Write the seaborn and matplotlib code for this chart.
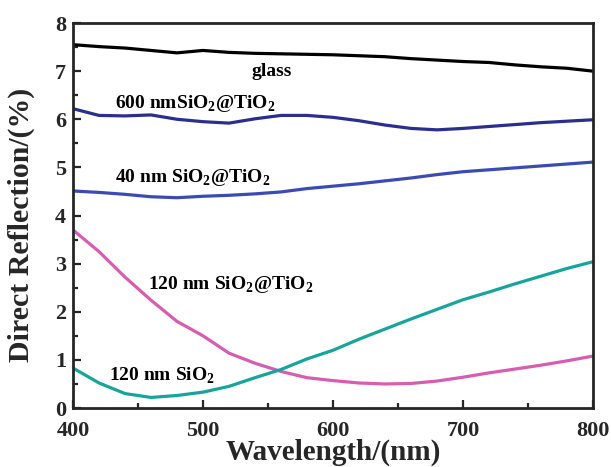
import matplotlib
matplotlib.use("Agg")
import matplotlib.pyplot as plt
import seaborn as sns
import pandas as pd
from matplotlib.ticker import MultipleLocator

wl = [400, 420, 440, 460, 480, 500, 520, 540, 560, 580, 600, 620, 640, 660,
      680, 700, 720, 740, 760, 780, 800]

glass = [7.55, 7.51, 7.48, 7.43, 7.38, 7.43, 7.39, 7.37, 7.36, 7.35, 7.34, 7.32,
         7.30, 7.26, 7.23, 7.20, 7.18, 7.13, 7.09, 7.06, 7.00]
sio2tio2_600 = [6.22, 6.08, 6.07, 6.09, 6.00, 5.95, 5.92, 6.01, 6.08, 6.08, 6.04,
                5.97, 5.88, 5.81, 5.78, 5.81, 5.85, 5.89, 5.93, 5.96, 5.99]
sio2tio2_40 = [4.51, 4.48, 4.44, 4.39, 4.37, 4.40, 4.42, 4.45, 4.49, 4.56, 4.61,
               4.66, 4.72, 4.78, 4.85, 4.91, 4.95, 4.99, 5.03, 5.07, 5.11]
sio2tio2_120 = [3.70, 3.25, 2.72, 2.24, 1.80, 1.50, 1.14, 0.93, 0.76, 0.63, 0.57,
                0.52, 0.50, 0.51, 0.56, 0.64, 0.73, 0.81, 0.89, 0.98, 1.08]
sio2_120 = [0.83, 0.52, 0.30, 0.22, 0.26, 0.33, 0.45, 0.63, 0.80, 1.02, 1.20,
            1.43, 1.64, 1.85, 2.05, 2.25, 2.41, 2.58, 2.74, 2.90, 3.04]

series = [
    ("glass", glass, "#000000"),
    ("600 nm SiO2@TiO2", sio2tio2_600, "#2B2E8C"),
    ("40 nm SiO2@TiO2", sio2tio2_40, "#3C4BB4"),
    ("120 nm SiO2@TiO2", sio2tio2_120, "#D65DB0"),
    ("120 nm SiO2", sio2_120, "#17A49B"),
]

sns.set_style("ticks")
plt.rcParams['font.family'] = ['Liberation Serif', 'DejaVu Serif']
plt.rcParams['font.weight'] = 'bold'
plt.rcParams['mathtext.fontset'] = 'custom'
plt.rcParams['mathtext.rm'] = 'Liberation Serif:bold'
plt.rcParams['mathtext.bf'] = 'Liberation Serif:bold'

fig = plt.figure(figsize=(6.11, 4.67), dpi=100)
ax = fig.add_axes([0.1195, 0.1263, 0.851, 0.8244])

for name, vals, col in series:
    df = pd.DataFrame({"wl": wl, "R": vals})
    sns.lineplot(data=df, x="wl", y="R", ax=ax, color=col, linewidth=2.3)

ax.set_xlim(400, 800)
ax.set_ylim(0, 8)
ax.xaxis.set_major_locator(MultipleLocator(100))
ax.xaxis.set_minor_locator(MultipleLocator(50))
ax.yaxis.set_major_locator(MultipleLocator(1))
ax.yaxis.set_minor_locator(MultipleLocator(0.5))
ax.tick_params(which='both', direction='in', width=1.6, top=False, right=False)
ax.tick_params(which='major', length=6, labelsize=16)
ax.tick_params(which='minor', length=3.5)
ax.tick_params(axis='x', pad=9)
ax.tick_params(axis='y', pad=5)
for lab in ax.get_xticklabels() + ax.get_yticklabels():
    lab.set_fontweight('bold')
for sp in ax.spines.values():
    sp.set_linewidth(2)
    sp.set_visible(True)

ax.set_xlabel("Wavelength/(nm)", fontsize=21, fontweight='bold', labelpad=-1)
ax.set_ylabel("Direct Reflection/(%)", fontsize=21.5, fontweight='bold')
ax.yaxis.set_label_coords(-0.073, 0.475)

tk = dict(fontsize=14, fontweight='bold', color='black')
ax.text(553, 6.99, "glass", ha='center', va='center', **tk)
ax.text(432, 6.33, r"600 nmSiO$_2$@TiO$_2$", ha='left', va='center', **tk)
ax.text(432, 4.80, r"40 nm SiO$_2$@TiO$_2$", ha='left', va='center', **tk)
ax.text(458, 2.56, r"120 nm SiO$_2$@TiO$_2$", ha='left', va='center', **tk)
ax.text(428, 0.66, r"120 nm SiO$_2$", ha='left', va='center', **tk)

fig.savefig("out.png", dpi=100)
